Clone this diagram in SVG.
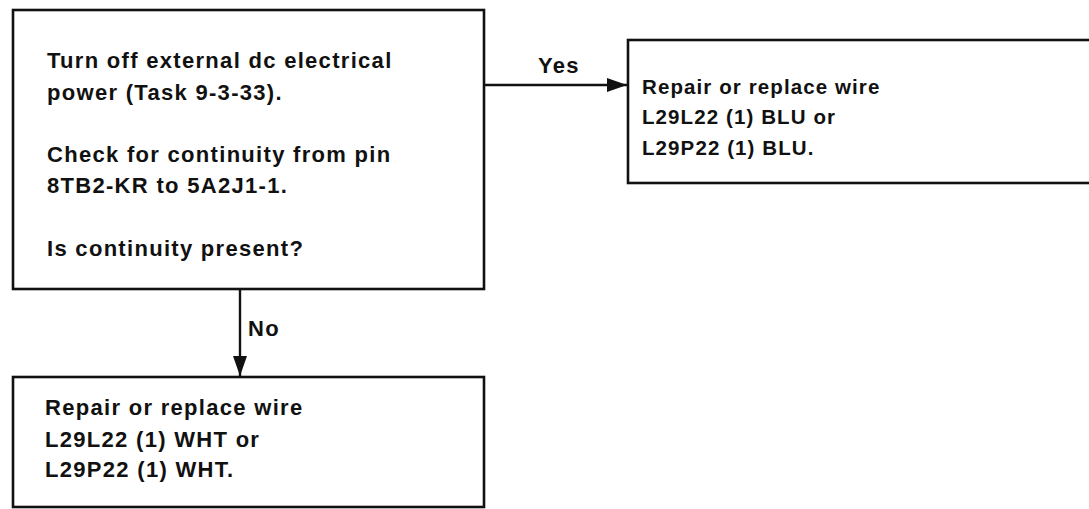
<svg xmlns="http://www.w3.org/2000/svg" width="1089" height="509" viewBox="0 0 1089 509">
<defs>
<style>
.box{fill:#fff;stroke:#111;stroke-width:2.6}
.t{font-family:"Liberation Sans",Arial,sans-serif;font-size:22px;fill:#111;font-weight:bold;letter-spacing:1.3px}
.s{font-size:20.5px;letter-spacing:1.1px}
.line{stroke:#111;stroke-width:2.4;fill:none}
</style>
<marker id="ah" viewBox="0 0 20 14" refX="20" refY="7" markerWidth="20" markerHeight="14" markerUnits="userSpaceOnUse" orient="auto">
<path d="M0,0 L20,7 L0,14 Z" fill="#111"/>
</marker>
</defs>
<rect width="1089" height="509" fill="#fff"/>
<g id="connectors">
<path class="line" d="M484,85 L627,85" marker-end="url(#ah)"/>
<text class="t" x="538" y="73">Yes</text>
<path class="line" d="M240,289 L240,376" marker-end="url(#ah)"/>
<text class="t" x="248" y="336">No</text>
</g>
<g id="node-check">
<rect class="box" x="13" y="10" width="471" height="279"/>
<text class="t" x="47" y="68">Turn off external dc electrical</text>
<text class="t" x="47" y="100">power (Task 9-3-33).</text>
<text class="t" x="47" y="162">Check for continuity from pin</text>
<text class="t" x="47" y="193">8TB2-KR to 5A2J1-1.</text>
<text class="t" x="47" y="256">Is continuity present?</text>
</g>
<g id="node-yes">
<rect class="box" x="628" y="40" width="470" height="143"/>
<text class="t s" x="642" y="94">Repair or replace wire</text>
<text class="t s" x="642" y="124">L29L22 (1) BLU or</text>
<text class="t s" x="642" y="155">L29P22 (1) BLU.</text>
</g>
<g id="node-no">
<rect class="box" x="13" y="377" width="471" height="130"/>
<text class="t" x="45" y="415">Repair or replace wire</text>
<text class="t" x="45" y="447">L29L22 (1) WHT or</text>
<text class="t" x="45" y="477">L29P22 (1) WHT.</text>
</g>
</svg>
